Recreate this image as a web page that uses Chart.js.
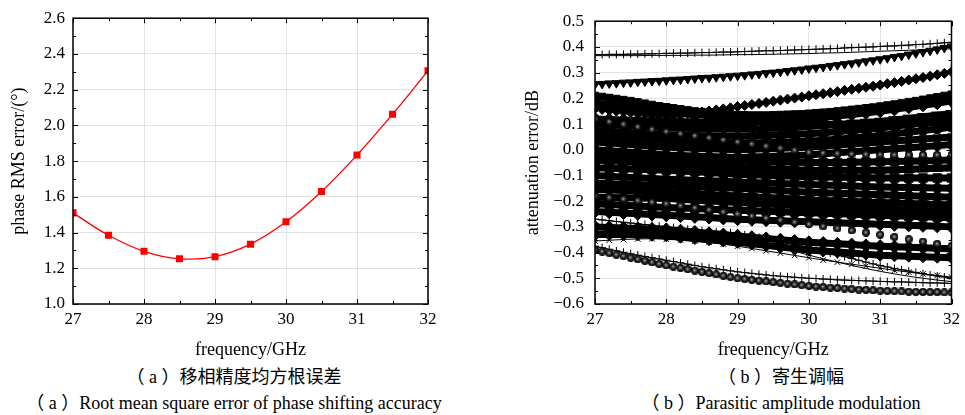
<!DOCTYPE html>
<html>
<head>
<meta charset="utf-8">
<script src="https://cdn.jsdelivr.net/npm/chart.js@4.4.0/dist/chart.umd.min.js"></script>
<style>
  html, body { margin: 0; padding: 0; background: #fff; }
  body { width: 965px; height: 415px; position: relative; overflow: hidden;
         font-family: "Liberation Serif", "Noto Sans CJK SC", serif; color: #000; }
  #chartA { position: absolute; left: 0; top: 0; }
  #chartB { position: absolute; left: 480px; top: 0; }
  .cap { position: absolute; text-align: center; font-size: 18px; line-height: 20px; white-space: nowrap; }
</style>
</head>
<body>
<canvas id="chartA" width="480" height="365"></canvas>
<canvas id="chartB" width="485" height="365"></canvas>
<div class="cap" style="left:-3px;width:474px;top:367px;">（ a ）移相精度均方根误差</div>
<div class="cap" style="left:-3px;width:474px;top:393px;">（ a ）Root mean square error of phase shifting accuracy</div>
<div class="cap" style="left:544px;width:474px;top:367px;">（ b ）寄生调幅</div>
<div class="cap" style="left:544px;width:474px;top:393px;">（ b ）Parasitic amplitude modulation</div>
<script>
// ---- data (a): phase RMS error
var freqA = [27, 27.5, 28, 28.5, 29, 29.5, 30, 30.5, 31, 31.5, 32];
var rmsErr = [1.51, 1.385, 1.295, 1.253, 1.265, 1.335, 1.46, 1.63, 1.834, 2.062, 2.306];

// ---- data (b): attenuation error, one array per state
var freqFine = [
  27.0, 27.1, 27.2, 27.3, 27.4, 27.5, 27.6, 27.7, 27.8, 27.9,
  28.0, 28.1, 28.2, 28.3, 28.4, 28.5, 28.6, 28.7, 28.8, 28.9,
  29.0, 29.1, 29.2, 29.3, 29.4, 29.5, 29.6, 29.7, 29.8, 29.9,
  30.0, 30.1, 30.2, 30.3, 30.4, 30.5, 30.6, 30.7, 30.8, 30.9,
  31.0, 31.1, 31.2, 31.3, 31.4, 31.5, 31.6, 31.7, 31.8, 31.9,
  32.0];
var freqCoarse = [
  27.0, 27.2, 27.4, 27.6, 27.8, 28.0, 28.2, 28.4, 28.6, 28.8,
  29.0, 29.2, 29.4, 29.6, 29.8, 30.0, 30.2, 30.4, 30.6, 30.8,
  31.0, 31.2, 31.4, 31.6, 31.8, 32.0];

var topCross = [
  .370,.370,.371,.371,.371,.372,.372,.373,.373,.374,
  .375,.375,.376,.376,.377,.378,.378,.379,.380,.380,
  .381,.382,.383,.384,.385,.385,.386,.387,.388,.389,
  .390,.391,.392,.393,.394,.396,.397,.398,.399,.400,
  .402,.403,.404,.406,.407,.409,.410,.412,.414,.416,
  .418];
var topTri = [
  .255,.256,.258,.259,.261,.262,.264,.265,.267,.268,
  .270,.272,.273,.275,.277,.279,.280,.282,.284,.286,
  .288,.290,.293,.295,.298,.300,.303,.306,.309,.312,
  .316,.319,.322,.326,.329,.333,.336,.340,.344,.348,
  .352,.356,.361,.365,.370,.375,.380,.385,.390,.396,
  .402];
var topDiamond = [
  .160,.157,.153,.150,.147,.144,.141,.138,.136,.134,
  .133,.134,.136,.139,.143,.147,.151,.155,.159,.163,
  .168,.172,.176,.180,.184,.189,.193,.197,.201,.205,
  .210,.214,.218,.222,.226,.231,.235,.239,.243,.247,
  .252,.257,.261,.266,.271,.276,.281,.286,.292,.297,
  .303];
var topSquare = [
  .210,.206,.202,.198,.194,.190,.185,.180,.175,.170,
  .166,.162,.158,.154,.150,.147,.144,.141,.139,.137,
  .136,.135,.134,.134,.134,.135,.136,.137,.138,.139,
  .141,.143,.145,.147,.150,.153,.156,.159,.162,.165,
  .169,.173,.177,.181,.186,.190,.195,.200,.205,.210,
  .215];
var botBall = [
  -.390,-.396,-.402,-.408,-.414,-.420,-.426,-.432,-.438,-.444,
  -.450,-.455,-.460,-.465,-.470,-.475,-.480,-.485,-.490,-.495,
  -.500,-.503,-.506,-.509,-.512,-.515,-.518,-.521,-.524,-.527,
  -.530,-.532,-.534,-.536,-.538,-.540,-.542,-.544,-.545,-.547,
  -.548,-.549,-.550,-.551,-.552,-.553,-.553,-.554,-.554,-.555,
  -.555];
var botCross = [
  -.375,-.381,-.387,-.393,-.399,-.405,-.410,-.415,-.420,-.425,
  -.430,-.435,-.440,-.445,-.450,-.455,-.459,-.463,-.467,-.471,
  -.475,-.478,-.481,-.484,-.487,-.490,-.492,-.494,-.496,-.498,
  -.500,-.501,-.503,-.504,-.506,-.507,-.508,-.509,-.510,-.511,
  -.512,-.513,-.514,-.514,-.515,-.516,-.517,-.518,-.518,-.519,
  -.520];
var midCross = [
  -.270,-.273,-.276,-.279,-.282,-.285,-.288,-.291,-.294,-.297,
  -.300,-.303,-.306,-.309,-.312,-.315,-.317,-.319,-.321,-.323,
  -.326,-.331,-.336,-.341,-.346,-.351,-.357,-.363,-.369,-.375,
  -.381,-.388,-.395,-.402,-.409,-.416,-.423,-.430,-.437,-.444,
  -.450,-.456,-.462,-.467,-.472,-.477,-.482,-.487,-.491,-.495,
  -.499];

var lineTop = [.366,.366,.366,.366,.367, .367,.367,.368,.368,.369, .370,.370,.371,.372,.373, .374,.376,.377,.379,.381, .383,.385,.387,.389,.391, .393];
var lineLow = [-.290,-.293,-.296,-.299,-.302, -.305,-.308,-.312,-.317,-.324, -.335,-.348,-.364,-.380,-.395, -.410,-.424,-.437,-.450,-.462, -.473,-.483,-.492,-.500,-.507, -.513];
var s01 = [.120,.118,.116,.114,.112, .110,.109,.108,.107,.106, .105,.107,.110,.113,.116, .120,.125,.131,.137,.143, .150,.157,.165,.173,.181, .190];
var s02 = [.100,.097,.094,.091,.088, .085,.084,.083,.082,.081, .080,.081,.083,.085,.087, .090,.094,.098,.102,.106, .110,.116,.122,.128,.134, .140];
var s03 = [.075,.072,.068,.065,.061, .058,.057,.055,.054,.053, .052,.054,.056,.058,.060, .062,.066,.071,.075,.080, .085,.091,.098,.104,.111, .118];
var s04 = [.055,.051,.047,.043,.039, .035,.033,.031,.029,.027, .025,.026,.028,.030,.031, .033,.037,.041,.046,.050, .055,.062,.068,.075,.081, .088];
var s05 = [.030,.026,.022,.018,.014, .010,.008,.006,.004,.002, .000,.002,.004,.006,.008, .010,.014,.018,.022,.026, .030,.034,.038,.042,.046, .050];
var s06 = [.000,-.004,-.008,-.012,-.016, -.020,-.022,-.024,-.026,-.028, -.030,-.028,-.026,-.024,-.022, -.020,-.016,-.012,-.008,-.004, .000,.004,.008,.012,.016, .020];
var s07 = [.120,.109,.099,.089,.079, .070,.062,.054,.046,.038, .030,.022,.014,.006,-.002, -.010,-.013,-.015,-.017,-.018, -.019,-.020,-.020,-.020,-.020, -.020];
var s08 = [-.040,-.043,-.046,-.049,-.052, -.055,-.058,-.061,-.064,-.067, -.070,-.072,-.074,-.076,-.078, -.080,-.080,-.080,-.080,-.080, -.080,-.078,-.076,-.074,-.072, -.070];
var s09 = [-.070,-.072,-.074,-.076,-.078, -.080,-.083,-.086,-.089,-.092, -.095,-.097,-.099,-.101,-.103, -.105,-.106,-.107,-.108,-.109, -.110,-.110,-.110,-.110,-.110, -.110];
var s10 = [-.100,-.103,-.106,-.109,-.112, -.115,-.117,-.119,-.121,-.123, -.125,-.127,-.129,-.131,-.133, -.135,-.137,-.139,-.141,-.143, -.145,-.146,-.147,-.148,-.149, -.150];
var s11 = [-.130,-.132,-.134,-.136,-.138, -.140,-.142,-.144,-.146,-.148, -.150,-.153,-.156,-.159,-.162, -.165,-.167,-.169,-.171,-.173, -.175,-.177,-.179,-.181,-.183, -.185];
var s12 = [-.155,-.157,-.159,-.161,-.163, -.165,-.168,-.171,-.174,-.177, -.180,-.183,-.186,-.189,-.192, -.195,-.197,-.199,-.201,-.203, -.205,-.207,-.209,-.211,-.213, -.215];
var s13 = [-.180,-.186,-.192,-.198,-.204, -.210,-.218,-.226,-.234,-.242, -.250,-.258,-.266,-.274,-.282, -.290,-.298,-.306,-.314,-.322, -.330,-.339,-.348,-.357,-.366, -.375];
var s14 = [-.210,-.213,-.216,-.219,-.222, -.225,-.227,-.229,-.231,-.233, -.235,-.237,-.239,-.241,-.243, -.245,-.247,-.249,-.251,-.253, -.255,-.257,-.259,-.261,-.263, -.265];
var s15 = [-.240,-.243,-.246,-.249,-.252, -.255,-.258,-.261,-.264,-.267, -.270,-.272,-.274,-.276,-.278, -.280,-.282,-.284,-.286,-.288, -.290,-.292,-.294,-.296,-.298, -.300];
var s16 = [-.300,-.302,-.304,-.306,-.308, -.310,-.315,-.320,-.325,-.330, -.335,-.340,-.345,-.350,-.355, -.360,-.363,-.366,-.369,-.372, -.375,-.377,-.379,-.381,-.383, -.385];
var s17 = [-.330,-.330,-.330,-.331,-.333, -.335,-.340,-.345,-.350,-.355, -.360,-.366,-.372,-.378,-.384, -.390,-.394,-.398,-.402,-.406, -.410,-.412,-.414,-.416,-.418, -.420];
var s18 = [-.355,-.352,-.349,-.347,-.346, -.348,-.351,-.355,-.360,-.367, -.375,-.384,-.393,-.402,-.411, -.420,-.429,-.437,-.445,-.453, -.461,-.469,-.476,-.483,-.489, -.495];
var s19 = [-.020,-.023,-.026,-.029,-.032, -.035,-.037,-.039,-.041,-.043, -.045,-.046,-.047,-.048,-.049, -.050,-.050,-.050,-.049,-.048, -.047,-.046,-.045,-.044,-.042, -.040];
var s20 = [-.185,-.186,-.187,-.188,-.189, -.190,-.193,-.196,-.199,-.202, -.205,-.208,-.211,-.214,-.217, -.220,-.222,-.224,-.226,-.228, -.230,-.232,-.234,-.236,-.238, -.240];
var s21 = [.180,.174,.168,.162,.156, .150,.144,.138,.132,.126, .120,.116,.112,.108,.104, .100,.099,.098,.098,.098, .099,.101,.103,.105,.107, .110];

// ---- helpers
var serif = "'Liberation Serif', 'Times New Roman', serif";

function ball(d) {
    var c = document.createElement('canvas');
    c.width = d; c.height = d;
    var g = c.getContext('2d');
    var grad = g.createRadialGradient(d * 0.45, d * 0.45, 0, d / 2, d / 2, d / 2);
    grad.addColorStop(0, '#bdbdbd');
    grad.addColorStop(0.3, '#555');
    grad.addColorStop(0.7, '#111');
    grad.addColorStop(1, '#000');
    g.fillStyle = grad;
    g.beginPath();
    g.arc(d / 2, d / 2, d / 2, 0, Math.PI * 2);
    g.fill();
    return c;
}
var ballImg = ball(8);

function series(xs, ys, style, r, opt) {
    var ds = {
        data: xs.map(function(x, i) { return {x: x, y: ys[i]}; }),
        borderColor: '#000',
        backgroundColor: '#000',
        borderWidth: 1,
        pointStyle: style,
        pointRadius: r,
        pointBorderWidth: 1,
        pointBorderColor: '#000',
        pointBackgroundColor: '#000',
        tension: 0
    };
    for (var k in opt) ds[k] = opt[k];
    return ds;
}
// the dense middle states: thick trace so the overlapping markers read as one mass
function inner(ys, style, r, opt) {
    var o = { borderWidth: 7 };
    for (var k in opt) o[k] = opt[k];
    return series(freqCoarse, ys, style, r, o);
}

// inward tick marks + frame
var frameTicks = {
    id: 'frameTicks',
    afterDraw: function(chart) {
        var o = chart.options.plugins.frameTicks;
        var ctx = chart.ctx, a = chart.chartArea;
        var sx = chart.scales.x, sy = chart.scales.y;
        ctx.save();
        ctx.strokeStyle = '#000';
        ctx.lineWidth = 1;
        ctx.beginPath();
        var n = Math.round((sx.max - sx.min) / o.xMinor), i, p, len;
        for (i = 0; i <= n; i++) {
            p = Math.round(sx.getPixelForValue(sx.min + i * o.xMinor)) + 0.5;
            len = (i % 2 === 0) ? 5 : 3;
            ctx.moveTo(p, a.bottom); ctx.lineTo(p, a.bottom - len);
            ctx.moveTo(p, a.top); ctx.lineTo(p, a.top + len);
        }
        n = Math.round((sy.max - sy.min) / o.yMinor);
        for (i = 0; i <= n; i++) {
            p = Math.round(sy.getPixelForValue(sy.min + i * o.yMinor)) + 0.5;
            len = (i % 2 === 0) ? 5 : 3;
            ctx.moveTo(a.left, p); ctx.lineTo(a.left + len, p);
            ctx.moveTo(a.right, p); ctx.lineTo(a.right - len, p);
        }
        ctx.stroke();
        ctx.lineWidth = 1.5;
        ctx.strokeRect(a.left, a.top, a.right - a.left, a.bottom - a.top);
        ctx.restore();
    }
};

function fixWidth(w) { return function(s) { s.width = w; }; }
function fixHeight(h) { return function(s) { s.height = h; }; }

// ---- chart (a)
new Chart(document.getElementById('chartA'), {
    type: 'line',
    data: {
        datasets: [{
            data: freqA.map(function(x, i) { return {x: x, y: rmsErr[i]}; }),
            borderColor: '#ff0000',
            backgroundColor: '#ff0000',
            borderWidth: 1.3,
            pointStyle: 'rect',
            pointRadius: 5,
            pointBorderWidth: 0,
            pointBackgroundColor: '#ff0000',
            tension: 0.4
        }]
    },
    options: {
        responsive: false,
        animation: false,
        layout: { padding: { left: 0, top: 18, right: 52, bottom: 0 } },
        plugins: {
            legend: { display: false },
            tooltip: { enabled: false },
            frameTicks: { xMinor: 0.5, yMinor: 0.1 }
        },
        scales: {
            x: {
                type: 'linear', min: 27, max: 32,
                ticks: { stepSize: 1, padding: 5, color: '#000', font: { family: serif, size: 17 } },
                grid: { color: '#e2e2e2', drawTicks: false },
                border: { display: false },
                title: { display: true, text: 'frequency/GHz', color: '#000',
                         font: { family: serif, size: 18, lineHeight: 1.2 }, padding: { top: 0, bottom: 4 } },
                afterFit: fixHeight(61)
            },
            y: {
                min: 1.0, max: 2.6,
                ticks: { stepSize: 0.2, padding: 8, color: '#000', font: { family: serif, size: 17 },
                         callback: function(v) { return v.toFixed(1); } },
                grid: { color: '#e2e2e2', drawTicks: false },
                border: { display: false },
                title: { display: true, text: 'phase RMS error/(°)', color: '#000',
                         font: { family: serif, size: 18, lineHeight: 1.2 }, padding: { top: 8, bottom: 0 } },
                afterFit: fixWidth(73)
            }
        }
    },
    plugins: [frameTicks]
});

// ---- chart (b)
var dsB = [
    series(freqFine, botBall, ballImg, 4, { showLine: false }),
    series(freqCoarse, s13, ballImg, 4, { showLine: false }),
    series(freqCoarse, s07, ballImg, 4, { showLine: false }),
    series(freqFine, topCross, 'cross', 4, {}),
    series(freqCoarse, lineTop, 'circle', 0, {}),
    series(freqFine, topTri, 'triangle', 5, { pointRotation: 180 }),
    series(freqFine, topDiamond, 'rectRot', 5, {}),
    series(freqFine, topSquare, 'rect', 5, {}),
    series(freqFine, botCross, 'cross', 4, {}),
    series(freqFine, midCross, 'cross', 4, {}),
    series(freqCoarse, lineLow, 'circle', 0, {}),
    inner(s21, 'rect', 6, {}),
    inner(s01, 'rectRot', 6.5, {}),
    inner(s02, 'triangle', 6.5, { pointRotation: 180 }),
    inner(s03, 'triangle', 6.5, {}),
    inner(s04, 'circle', 5, {}),
    inner(s05, 'crossRot', 5, { pointBorderWidth: 2 }),
    inner(s06, 'rectRot', 6.5, {}),
    inner(s19, 'rect', 6, {}),
    inner(s08, 'triangle', 6.5, {}),
    inner(s09, 'rect', 6, {}),
    inner(s10, 'rectRot', 6.5, {}),
    inner(s11, 'circle', 5, {}),
    inner(s12, 'triangle', 6.5, { pointRotation: 180 }),
    inner(s20, 'rectRot', 6.5, {}),
    inner(s14, 'rect', 6, {}),
    inner(s15, 'rectRot', 6.5, {}),
    inner(s16, 'rectRot', 6.5, {}),
    inner(s17, 'rectRot', 6, {}),
    series(freqCoarse, s18, 'crossRot', 4, {})
];

new Chart(document.getElementById('chartB'), {
    type: 'line',
    data: { datasets: dsB },
    options: {
        responsive: false,
        animation: false,
        layout: { padding: { left: 0, top: 15, right: 12, bottom: 0 } },
        plugins: {
            legend: { display: false },
            tooltip: { enabled: false },
            frameTicks: { xMinor: 0.5, yMinor: 0.05 }
        },
        scales: {
            x: {
                type: 'linear', min: 27, max: 32,
                ticks: { stepSize: 1, padding: 5, color: '#000', font: { family: serif, size: 17 } },
                grid: { color: '#e2e2e2', drawTicks: false },
                border: { display: false },
                title: { display: true, text: 'frequency/GHz', color: '#000',
                         font: { family: serif, size: 18, lineHeight: 1.2 }, padding: { top: 0, bottom: 4 } },
                afterFit: fixHeight(61)
            },
            y: {
                min: -0.6, max: 0.5,
                ticks: { stepSize: 0.1, padding: 11, color: '#000', font: { family: serif, size: 17 },
                         callback: function(v) {
                             var r = Math.round(v * 10) / 10;
                             return (r < 0 ? '\u2212' : '') + Math.abs(r).toFixed(1);
                         } },
                grid: { color: '#e2e2e2', drawTicks: false },
                border: { display: false },
                title: { display: true, text: 'attenuation error/dB', color: '#000',
                         font: { family: serif, size: 18, lineHeight: 1.2 }, padding: { top: 42, bottom: 0 } },
                afterFit: fixWidth(115)
            }
        }
    },
    plugins: [frameTicks]
});
</script>
</body>
</html>
